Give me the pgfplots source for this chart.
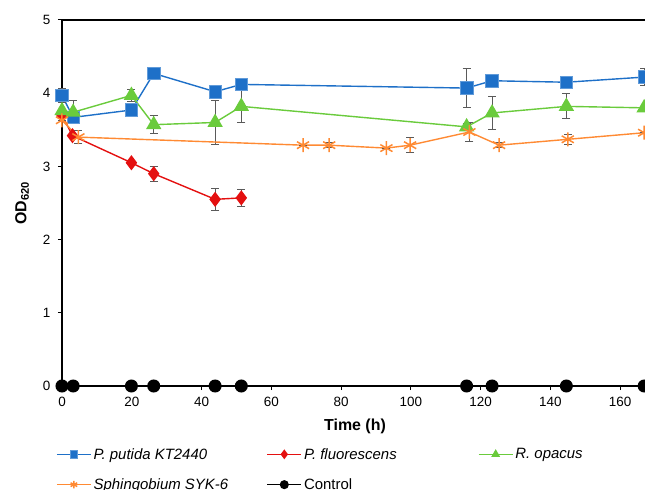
\documentclass[border=0pt]{standalone}
\usepackage{pgfplots}
\pgfplotsset{compat=1.18}
\usepackage{fontspec}
\setmainfont{Liberation Sans}
\definecolor{cblue}{RGB}{30,112,200}
\definecolor{cred}{RGB}{228,16,16}
\definecolor{cgreen}{RGB}{106,203,60}
\definecolor{corange}{RGB}{255,138,51}
\definecolor{cerr}{RGB}{90,90,90}
\begin{document}
\begin{tikzpicture}
\begin{axis}[
  scale only axis, width=586bp, height=366bp,
  xmin=0, xmax=168, ymin=0, ymax=5,
  xtick={0,20,...,160}, ytick={0,1,...,5},
  tick pos=left, tick align=outside, major tick length=4bp,
  axis line style={line width=1.3bp},
  tick style={line width=1bp, black},
  ticklabel style={font=\fontsize{13.5}{16}\selectfont},
  xticklabel style={yshift=-4bp},
  yticklabel style={xshift=-4bp},
  /pgf/number format/assume math mode=true,
  xlabel={\textbf{Time (h)}}, ylabel={\textbf{OD\textsubscript{620}}},
  label style={font=\fontsize{16}{19}\selectfont},
  xlabel style={at={(axis description cs:0.5,0)}, anchor=center, yshift=-40bp},
  ylabel style={at={(axis description cs:-0.068,0.5)}, anchor=center},
  clip=false,
  every axis plot/.append style={line width=1.4bp},
  error bars/error bar style={line width=1bp, cerr, solid},
  error bars/error mark options={rotate=90, mark size=4bp, line width=1bp, cerr},
  legend columns=3,
  legend cell align=left,
  legend style={at={(axis description cs:0,0)}, anchor=north west, xshift=-6bp, yshift=-60bp,
    draw=none, fill=none, inner sep=0pt, row sep=14bp,
    font=\fontsize{15}{17}\selectfont},
  legend image code/.code={\draw[mark repeat=2,mark phase=2,#1, mark size=3.8bp] plot coordinates {(0cm,0cm) (0.6cm,0cm) (1.2cm,0cm)};},
]
\coordinate (ll) at (rel axis cs:0,0);
\draw[line width=1.3bp] (rel axis cs:0,1) -- (rel axis cs:1,1);

\addplot[cblue, mark=square*, mark size=6.3bp, mark options={solid, fill=cblue, draw=cblue!70!white, line width=0.6bp},
  error bars/.cd, y dir=both, y explicit]
  table[x=x, y=y, y error=e] {
x y e
0 3.97 0.10
3.2 3.67 0
19.9 3.77 0
26.3 4.27 0
43.9 4.02 0
51.4 4.12 0
116 4.07 0.27
123.3 4.17 0
144.6 4.15 0.08
166.9 4.22 0.12
};
\addlegendentry{\makebox[171bp][l]{\textit{P. putida KT2440}}}

\addplot[cred, mark=diamond*, mark size=6.5bp, mark options={solid, fill=cred, draw=cred},
  error bars/.cd, y dir=both, y explicit]
  table[x=x, y=y, y error=e] {
x y e
0 3.70 0
3 3.42 0
19.9 3.05 0
26.3 2.90 0.10
43.9 2.55 0.15
51.4 2.57 0.12
};
\addlegendentry{\makebox[172bp][l]{\textit{P. fluorescens}}}

\addplot[cgreen, mark=triangle*, mark size=7.5bp, mark options={solid, fill=cgreen, draw=cgreen},
  error bars/.cd, y dir=both, y explicit]
  table[x=x, y=y, y error=e] {
x y e
0 3.76 0
3.2 3.74 0.16
19.9 3.97 0.08
26.3 3.57 0.12
43.9 3.60 0.30
51.4 3.82 0.22
116 3.54 0.05
123.3 3.73 0.22
144.6 3.82 0.17
166.9 3.80 0
};
\addlegendentry{\textit{R. opacus}}

\addplot[corange, mark=asterisk, mark size=7bp, mark options={solid, draw=corange, line width=1.5bp},
  error bars/.cd, y dir=both, y explicit]
  table[x=x, y=y, y error=e] {
x y e
0 3.63 0
4.7 3.40 0.09
69.1 3.29 0
76.6 3.29 0.03
93 3.25 0
99.8 3.29 0.10
116.8 3.47 0.13
125.3 3.29 0.03
145 3.37 0.07
166.9 3.46 0
};
\addlegendentry{\makebox[171bp][l]{\textit{Sphingobium SYK-6}}}

\addplot[black, mark=*, mark size=5.8bp, mark options={solid, fill=black}]
  table[x=x, y=y] {
x y
0 0
3.2 0
19.9 0
26.3 0
43.9 0
51.4 0
116 0
123.3 0
144.6 0
166.9 0
};
\addlegendentry{Control}
\end{axis}
\pgfresetboundingbox
\path[use as bounding box] ([xshift=-62bp,yshift=-104bp]ll) rectangle ([xshift=583bp,yshift=386bp]ll);
\end{tikzpicture}
\end{document}
